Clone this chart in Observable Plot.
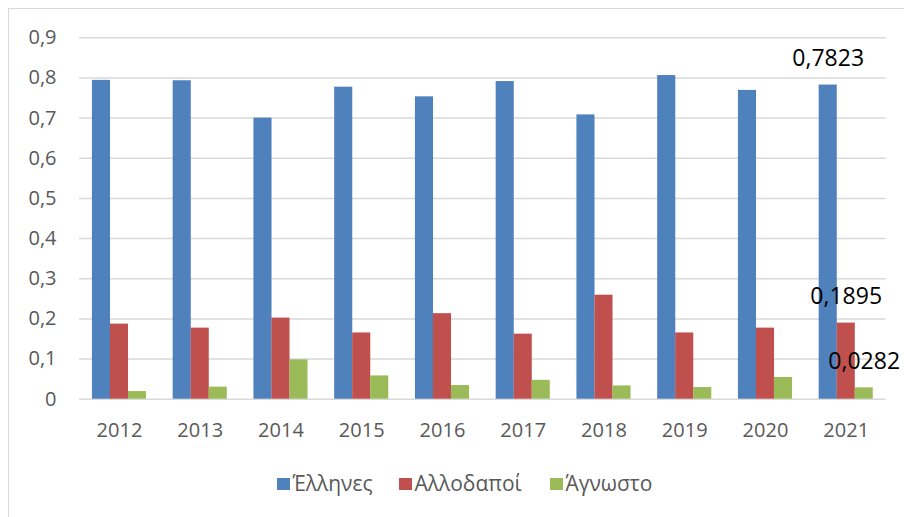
<!DOCTYPE html>
<html>
<head>
<meta charset="utf-8">
<script src="https://cdn.jsdelivr.net/npm/d3@7"></script>
<script src="https://cdn.jsdelivr.net/npm/@observablehq/plot@0.6"></script>
<style>
  html, body { margin: 0; padding: 0; background: #fff; }
  #wrap { position: relative; width: 904px; height: 517px; overflow: hidden; font-family: "Open Sans", sans-serif; }
  #frame { position: absolute; left: 8px; top: 8px; width: 1000px; height: 1000px; border-top: 1.5px solid #d9d9d9; border-left: 1.5px solid #d9d9d9; box-sizing: border-box; }
  #chart { position: absolute; left: 0; top: 0; }
  #legend { position: absolute; left: 0; top: 0; width: 904px; height: 517px; font-size: 21px; color: #595959; }
  .item { position: absolute; top: 470px; display: flex; align-items: flex-end; line-height: 26px; }
  .sw { width: 13.4px; height: 12px; margin-right: 2px; margin-bottom: 6px; }
</style>
</head>
<body>
<div id="wrap">
  <div id="frame"></div>
  <div id="chart"></div>
  <div id="legend"></div>
</div>
<script>
const years = ["2012","2013","2014","2015","2016","2017","2018","2019","2020","2021"];
const ellines   = [0.794, 0.793, 0.700, 0.777, 0.753, 0.791, 0.708, 0.806, 0.769, 0.7823];
const allodapoi = [0.187, 0.177, 0.202, 0.165, 0.213, 0.162, 0.259, 0.165, 0.177, 0.1895];
const agnosto   = [0.019, 0.030, 0.098, 0.058, 0.034, 0.047, 0.033, 0.029, 0.054, 0.0282];
const seriesNames = ["Έλληνες", "Αλλοδαποί", "Άγνωστο"];
const seriesColors = ["#4f81bd", "#c0504d", "#9bbb59"];
const yTicks = [0, 0.1, 0.2, 0.3, 0.4, 0.5, 0.6, 0.7, 0.8, 0.9];

const fmt = d => d === 0 ? "0" : String(d).replace(".", ",");
const seriesValues = [ellines, allodapoi, agnosto];
const tables = seriesValues.map(vals => years.map((y, i) => ({year: y, value: vals[i]})));
const lastLabels = seriesValues.map(vals => [{year: years[years.length - 1], value: vals[vals.length - 1]}]);

const bw = 18;
const insets = [[0, 2 * bw], [bw, bw], [2 * bw, 0]];
const dxs = [-bw, 0, bw];

const plot = Plot.plot({
  width: 904,
  height: 460,
  marginTop: 37.3,
  marginBottom: 61.3,
  marginLeft: 79,
  marginRight: 18.3,
  style: { fontFamily: "Open Sans, sans-serif", background: "transparent" },
  x: { domain: years, paddingInner: 0.33, paddingOuter: 0.16, round: false, label: null },
  y: { domain: [0, 0.9], label: null },
  marks: [
    Plot.ruleY(yTicks, { stroke: "#d9d9d9", strokeWidth: 1.5 }),
    ...tables.map((t, k) => Plot.barY(t, {
      x: "year", y: "value", fill: seriesColors[k],
      insetLeft: insets[k][0], insetRight: insets[k][1]
    })),
    Plot.axisX({ tickSize: 0, tickPadding: 24, fontSize: 20, fill: "#595959", label: null }),
    Plot.axisY({ ticks: yTicks, tickFormat: fmt, tickSize: 0, tickPadding: 23, fontSize: 20, fill: "#595959", label: null }),
    ...lastLabels.map((t, k) => Plot.text(t, {
      x: "year", y: "value", text: d => fmt(d.value), dx: dxs[k], dy: -19,
      lineAnchor: "bottom", textAnchor: "middle", fontSize: 23, fill: "#000"
    }))
  ]
});
document.getElementById("chart").appendChild(plot);

const legendLeft = [277, 399, 550];
const legend = document.getElementById("legend");
seriesNames.forEach((name, k) => {
  const item = document.createElement("div");
  item.className = "item";
  item.style.left = legendLeft[k] + "px";
  const sw = document.createElement("div");
  sw.className = "sw";
  sw.style.background = seriesColors[k];
  const label = document.createElement("span");
  label.textContent = name;
  item.appendChild(sw);
  item.appendChild(label);
  legend.appendChild(item);
});
</script>
</body>
</html>
